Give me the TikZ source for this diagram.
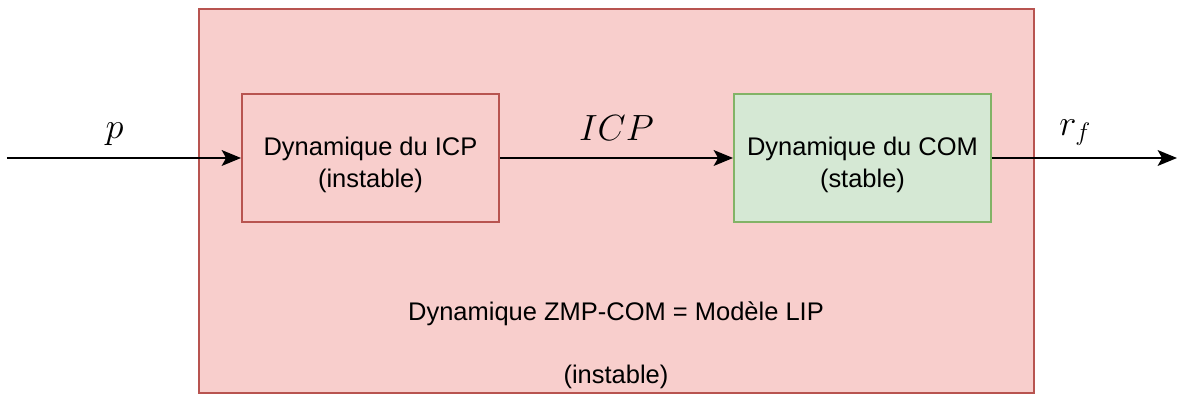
\documentclass[tikz,border=0pt]{standalone}
\usepackage{fontspec}
\setmainfont{Liberation Sans}
\usetikzlibrary{arrows.meta,positioning}
\definecolor{redfill}{HTML}{F8CECC}
\definecolor{redline}{HTML}{B85450}
\definecolor{greenfill}{HTML}{D5E8D4}
\definecolor{greenline}{HTML}{82B366}
\tikzset{
  dynbox/.style={draw, line width=1.1pt, minimum width=5.14cm, minimum height=2.56cm,
    align=center, font=\fontsize{14.5}{18}\selectfont},
  flow/.style={line width=1.1pt, -{Stealth[length=11pt,width=9pt,inset=2.5pt]}}
}
\begin{document}
\begin{tikzpicture}
            \useasboundingbox (0,0) rectangle (23.54,7.88);
            % Outer block: LIP model
            \node[draw=redline, fill=redfill, line width=1.1pt, minimum width=16.7cm,
              minimum height=7.68cm, inner sep=0pt] (lip) at (12.33,3.86) {};
            \node[font=\fontsize{14.5}{18}\selectfont] (liptext) at (12.32,1.6) {Dynamique ZMP-COM = Modèle LIP};
            \node[font=\fontsize{14.5}{18}\selectfont] (lipstate) at (12.32,0.34) {(instable)};
            % Inner blocks
            \node[dynbox, draw=redline, fill=redfill] (icp) at (7.41,4.72) {\rule{0pt}{1.28em}Dynamique du ICP\\(instable)};
            \node[dynbox, draw=greenline, fill=greenfill] (com) at (17.25,4.72) {\rule{0pt}{1.28em}Dynamique du COM\\(stable)};
            % Input and output ends
            \coordinate (in) at (0.14,4.72);
            \coordinate (out) at (23.54,4.72);
            % Signals
            \draw[flow] (in) -- (icp) node[pos=0.46, above=3pt, font=\fontsize{20}{22}\selectfont] (plabel) {$p$};
            \draw[flow] (icp) -- (com) node[midway, above=6pt, font=\fontsize{21}{24}\selectfont] (icplabel) {$ICP$};
            \draw[flow] (com) -- (out) node[pos=0.45, above=3pt, font=\fontsize{20}{22}\selectfont] (rlabel) {$r_f$};
\end{tikzpicture}
\end{document}
